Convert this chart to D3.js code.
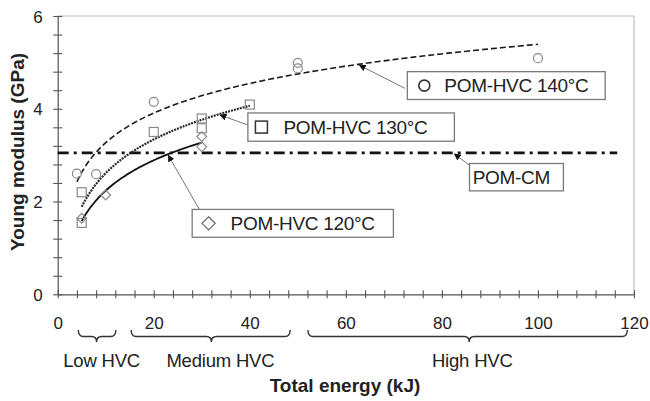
<!DOCTYPE html>
<html>
<head>
<meta charset="utf-8">
<script src="https://cdn.jsdelivr.net/npm/d3@7"></script>
<style>
  html, body { margin: 0; padding: 0; background: #fff; }
  svg { display: block; }
  text { font-family: "Liberation Sans", Arial, sans-serif; fill: #222; }
</style>
</head>
<body>
<svg id="chart" width="650" height="401"></svg>
<script>
// ---------- data ----------
const hvc140X = [4, 8, 20, 50, 50, 100];
const hvc140Y = [2.60, 2.59, 4.15, 4.99, 4.87, 5.09];
const hvc130X = [5, 5, 20, 30, 30, 40];
const hvc130Y = [2.20, 1.54, 3.50, 3.79, 3.58, 4.09];
const hvc120X = [5, 10, 30, 30];
const hvc120Y = [1.64, 2.14, 3.40, 3.18];
const pomCM = 3.05;
const pomCMRange = [0, 116.5];
const xTickLabels = [0, 20, 40, 60, 80, 100, 120];
const yTickLabels = [0, 2, 4, 6];
const regionNames = ["Low HVC", "Medium HVC", "High HVC"];
const regionStart = [4.3, 15.3, 52.1];
const regionEnd = [12.1, 48.4, 118.6];
const regionTip = [8.1, 32.0, 85.7];
const calloutLabels = ["POM-HVC 140°C", "POM-HVC 130°C", "POM-HVC 120°C", "POM-CM"];

// ---------- layout ----------
const svg = d3.select("#chart");
const x = d3.scaleLinear().domain([0, 120]).range([57.7, 634]);
const y = d3.scaleLinear().domain([0, 6]).range([294.3, 16]);

// log fit y = a ln x + b (trendline from data)
function logFit(xs, ys) {
  const lx = xs.map(Math.log);
  const mx = d3.mean(lx), my = d3.mean(ys);
  let sxx = 0, sxy = 0;
  lx.forEach((v, i) => { sxx += (v - mx) * (v - mx); sxy += (v - mx) * (ys[i] - my); });
  const a = sxy / sxx;
  const b = my - a * mx;
  return v => a * Math.log(v) + b;
}
const f140 = logFit(hvc140X, hvc140Y);
const f130 = logFit(hvc130X, hvc130Y);
const f120 = logFit(hvc120X, hvc120Y);

// defs: arrow marker
svg.append("defs").append("marker")
  .attr("id", "arr").attr("viewBox", "0 0 10 10")
  .attr("refX", 9).attr("refY", 5)
  .attr("markerWidth", 7).attr("markerHeight", 7)
  .attr("markerUnits", "userSpaceOnUse")
  .attr("orient", "auto")
  .append("path").attr("d", "M0,0 L10,5 L0,10 z").attr("fill", "#111");

// plot border (top/right)
svg.append("path")
  .attr("d", `M${x(0)},${y(6)} H${x(120)} V${y(0)}`)
  .attr("fill", "none").attr("stroke", "#bdbdbd").attr("stroke-width", 1.2);

// x axis
const xMinor = d3.range(0, 31).map(i => i * 4);
const xAxis = d3.axisBottom(x).tickValues(xMinor)
  .tickFormat(d => xTickLabels.includes(d) ? d : "").tickSize(0).tickPadding(0);
const gx = svg.append("g").attr("transform", `translate(0,${y(0)})`).call(xAxis);
gx.select(".domain").attr("stroke", "#555").attr("stroke-width", 1.2);
gx.selectAll(".tick line").attr("y1", -4).attr("y2", 4).attr("stroke", "#555").attr("stroke-width", 1.1);
gx.selectAll(".tick text").attr("y", 35).attr("dy", 0)
  .style("font-size", "17px").style("font-family", "Liberation Sans, Arial, sans-serif").attr("fill", "#222");

// y axis
const yMinor = d3.range(0, 16).map(i => +(i * 0.4).toFixed(1));
const yAxis = d3.axisLeft(y).tickValues(yMinor)
  .tickFormat(d => yTickLabels.includes(d) ? d : "").tickSize(0).tickPadding(0);
const gy = svg.append("g").attr("transform", `translate(${x(0)},0)`).call(yAxis);
gy.select(".domain").attr("stroke", "#555").attr("stroke-width", 1.2);
gy.selectAll(".tick line").attr("x1", -4.5).attr("x2", 4.5).attr("stroke", "#555").attr("stroke-width", 1.1);
gy.selectAll(".tick text").attr("x", -15).attr("dy", "0.36em")
  .style("font-size", "17px").style("font-family", "Liberation Sans, Arial, sans-serif").attr("fill", "#222");

// POM-CM line
svg.append("line")
  .attr("x1", x(pomCMRange[0])).attr("x2", x(pomCMRange[1]))
  .attr("y1", y(pomCM)).attr("y2", y(pomCM))
  .attr("stroke", "#111").attr("stroke-width", 2.6)
  .attr("stroke-dasharray", "11,5,3,5");

// trend curves
function curve(fn, xs, dash, width, color) {
  const lo = d3.min(xs), hi = d3.max(xs);
  const pts = d3.range(0, 101).map(i => lo + (hi - lo) * i / 100);
  svg.append("path")
    .attr("d", d3.line().x(v => x(v)).y(v => y(fn(v)))(pts))
    .attr("fill", "none").attr("stroke", color).attr("stroke-width", width)
    .attr("stroke-dasharray", dash);
}
curve(f140, hvc140X, "6,3", 1.6, "#1a1a1a");
curve(f130, hvc130X, "2,1", 2.2, "#2a2a2a");
curve(f120, hvc120X, null, 1.8, "#111");

// markers
const mk = "#8a8a8a";
svg.append("g").selectAll("circle").data(hvc140X).join("circle")
  .attr("cx", (d) => x(d)).attr("cy", (d, i) => y(hvc140Y[i])).attr("r", 4.5)
  .attr("fill", "none").attr("stroke", mk).attr("stroke-width", 1.2);
svg.append("g").selectAll("rect").data(hvc130X).join("rect")
  .attr("x", d => x(d) - 4.5).attr("y", (d, i) => y(hvc130Y[i]) - 4.5)
  .attr("width", 9).attr("height", 9)
  .attr("fill", "none").attr("stroke", mk).attr("stroke-width", 1.2);
const diamond = d3.symbol().type(d3.symbolDiamond2).size(60);
svg.append("g").selectAll("path").data(hvc120X).join("path")
  .attr("transform", (d, i) => `translate(${x(d)},${y(hvc120Y[i])})`)
  .attr("d", diamond)
  .attr("fill", "none").attr("stroke", mk).attr("stroke-width", 1.2);

// callouts: box in data coords [x0,x1,yTop,yBottom], leader start, arrow tip x
const callouts = [
  { label: calloutLabels[0], box: [72.8, 114.0, 4.80, 4.20], from: [72.3, 4.44], tipX: 62.8, fn: f140, sym: "circle", textX: 80.5 },
  { label: calloutLabels[1], box: [39.6, 82.6, 3.91, 3.30], from: [39.6, 3.65], tipX: 33.8, fn: f130, sym: "square", textX: 47.0 },
  { label: calloutLabels[2], box: [28.0, 69.9, 1.83, 1.23], from: [29.5, 1.83], tipX: 23.0, fn: f120, sym: "diamond", textX: 36.0 },
  { label: calloutLabels[3], box: [85.75, 105.3, 2.82, 2.23], from: [85.75, 2.78], tipX: 82.6, fn: () => pomCM, sym: null, textX: 86.4 }
];
callouts.forEach(c => {
  svg.append("line")
    .attr("x1", x(c.from[0])).attr("y1", y(c.from[1]))
    .attr("x2", x(c.tipX)).attr("y2", y(c.fn(c.tipX)) + 1)
    .attr("stroke", "#777").attr("stroke-width", 1)
    .attr("marker-end", "url(#arr)");
  const bx = x(c.box[0]), bw = x(c.box[1]) - x(c.box[0]);
  const by = y(c.box[2]), bh = y(c.box[3]) - y(c.box[2]);
  svg.append("rect").attr("x", bx).attr("y", by).attr("width", bw).attr("height", bh)
    .attr("fill", "#fff").attr("stroke", "#7a7a7a").attr("stroke-width", 1.3);
  const cy = by + bh / 2;
  const tx = x(c.textX);
  if (c.sym === "circle") {
    svg.append("circle").attr("cx", tx - 20).attr("cy", cy).attr("r", 5.5)
      .attr("fill", "none").attr("stroke", "#333").attr("stroke-width", 1.6);
  } else if (c.sym === "square") {
    svg.append("rect").attr("x", tx - 28).attr("y", cy - 6).attr("width", 12).attr("height", 12)
      .attr("fill", "none").attr("stroke", "#333").attr("stroke-width", 1.5);
  } else if (c.sym === "diamond") {
    svg.append("path").attr("transform", `translate(${tx - 22},${cy})`)
      .attr("d", d3.symbol().type(d3.symbolDiamond2).size(110))
      .attr("fill", "none").attr("stroke", "#666").attr("stroke-width", 1.2);
  }
  svg.append("text").attr("x", tx).attr("y", cy + 6.8)
    .style("font-size", "19px").style("letter-spacing", "-0.3px").text(c.label);
});

// braces under the axis
const y0 = 330, y1 = 336.5, y2 = 342;
regionNames.forEach((name, i) => {
  const a = x(regionStart[i]), b = x(regionEnd[i]), t = x(regionTip[i]);
  const r = 5;
  const p = `M${a},${y0} Q${a},${y1} ${a + r},${y1} L${t - r},${y1} Q${t},${y1} ${t},${y2} ` +
            `Q${t},${y1} ${t + r},${y1} L${b - r},${y1} Q${b},${y1} ${b},${y0}`;
  svg.append("path").attr("d", p).attr("fill", "none").attr("stroke", "#333").attr("stroke-width", 1.4);
  svg.append("text").attr("x", t + (i === 0 ? 5 : (i === 1 ? 9 : 3))).attr("y", 367)
    .attr("text-anchor", "middle").style("font-size", "18.5px").style("letter-spacing", "-0.2px").text(name);
});

// axis titles
svg.append("text").attr("x", 345).attr("y", 392).attr("text-anchor", "middle")
  .style("font-size", "19px").style("font-weight", "bold").text("Total energy (kJ)");
svg.append("text").attr("transform", "translate(24,152) rotate(-90)").attr("text-anchor", "middle")
  .style("font-size", "19px").style("font-weight", "bold").text("Young modulus (GPa)");
</script>
</body>
</html>
